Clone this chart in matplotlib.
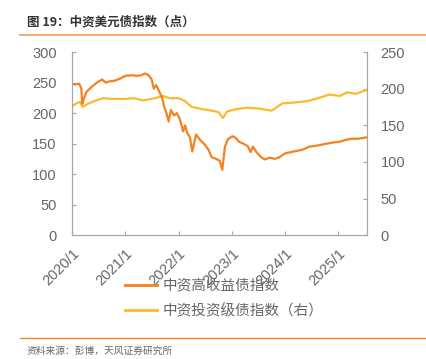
import matplotlib
matplotlib.use("Agg")
import matplotlib.pyplot as plt
import pandas as pd
from matplotlib.lines import Line2D

plt.rcParams['font.family'] = ['Noto Sans CJK SC', 'DejaVu Sans']

# 中资高收益债指数 (left axis)
hy_dates = ["2020-01-01", "2020-01-20", "2020-02-20", "2020-03-05", "2020-03-12", "2020-03-20",
            "2020-04-10", "2020-05-15", "2020-06-20", "2020-07-25", "2020-08-20", "2020-09-15",
            "2020-10-20", "2020-12-01", "2021-01-01", "2021-02-15", "2021-03-20", "2021-04-20",
            "2021-05-15", "2021-06-10", "2021-07-01", "2021-07-15", "2021-08-01", "2021-08-20",
            "2021-09-10", "2021-09-25", "2021-10-10", "2021-10-25", "2021-11-10", "2021-12-01",
            "2021-12-20", "2022-01-10", "2022-02-01", "2022-02-15", "2022-03-01", "2022-03-20",
            "2022-04-05", "2022-05-01", "2022-06-01", "2022-07-01", "2022-07-25", "2022-08-15",
            "2022-09-15", "2022-10-10", "2022-10-28", "2022-11-15", "2022-12-05", "2023-01-05",
            "2023-01-25", "2023-02-20", "2023-03-20", "2023-04-20", "2023-05-10", "2023-05-25",
            "2023-06-20", "2023-07-20", "2023-08-15", "2023-09-20", "2023-10-20", "2023-11-20",
            "2024-01-01", "2024-03-01", "2024-05-01", "2024-06-15", "2024-08-15", "2024-10-15",
            "2024-12-01", "2025-01-10", "2025-02-20", "2025-04-01", "2025-05-15", "2025-07-10"]
hy_vals = [248, 247, 248, 240, 215, 222, 235, 243, 250, 255, 250, 252,
           253, 257, 261, 262, 261, 262, 265, 262, 255, 240, 246, 236,
           225, 210, 200, 186, 205, 196, 200, 190, 170, 180, 168, 160,
           137, 165, 155, 148, 140, 128, 125, 122, 107, 145, 157, 162,
           160, 153, 150, 146, 136, 145, 136, 128, 124, 127, 125, 127,
           134, 137, 140, 145, 147, 150, 152, 153, 156, 158, 158, 160]

# 中资投资级债指数（右） (right axis)
ig_dates = ["2020-01-01", "2020-02-01", "2020-02-25", "2020-03-15", "2020-04-15", "2020-06-01",
            "2020-08-01", "2020-10-01", "2021-01-01", "2021-03-01", "2021-05-01", "2021-07-01",
            "2021-09-15", "2021-11-01", "2022-01-01", "2022-02-15", "2022-04-01", "2022-06-15",
            "2022-08-15", "2022-10-01", "2022-11-01", "2022-12-01", "2023-02-01", "2023-04-15",
            "2023-07-01", "2023-10-01", "2023-12-15", "2024-03-01", "2024-06-01", "2024-08-15",
            "2024-11-01", "2025-01-10", "2025-03-01", "2025-05-01", "2025-07-10"]
ig_vals = [176, 180, 182, 175, 179, 183, 187, 186, 186, 187, 184, 186,
           190, 187, 187, 183, 175, 172, 170, 168, 160, 169, 172, 174,
           173, 170, 180, 181, 183, 187, 192, 190, 195, 193, 198]

x_ticks = ["2020-01-01", "2021-01-01", "2022-01-01", "2023-01-01", "2024-01-01", "2025-01-01"]
x_labels = ["2020/1", "2021/1", "2022/1", "2023/1", "2024/1", "2025/1"]

hy_color = "#F4821E"
ig_color = "#FDB92C"
grey = "#666666"
spine = "#A6A6A6"

fig = plt.figure(figsize=(4.26, 3.59), dpi=100)
ax = fig.add_axes([0.169, 0.345, 0.692, 0.510])
ax2 = ax.twinx()

ax.plot(pd.to_datetime(hy_dates), hy_vals, color=hy_color, lw=1.6)
ax2.plot(pd.to_datetime(ig_dates), ig_vals, color=ig_color, lw=1.6)
ax.set_zorder(ax2.get_zorder() + 1)
ax.patch.set_visible(False)

ax.set_xlim(pd.Timestamp("2020-01-01"), pd.Timestamp("2025-07-15"))
ax.set_ylim(0, 300)
ax2.set_ylim(0, 250)
ax.set_yticks(range(0, 301, 50))
ax2.set_yticks(range(0, 251, 50))
ax.set_xticks(pd.to_datetime(x_ticks))
ax.set_xticklabels(x_labels, rotation=45, ha="right", rotation_mode="anchor")

for a in (ax, ax2):
    a.spines["top"].set_visible(False)
    for s in ("left", "right", "bottom"):
        a.spines[s].set_color(spine)
        a.spines[s].set_linewidth(0.8)
    a.tick_params(direction="in", colors=spine, labelcolor=grey, labelsize=10.5, length=3, width=0.8)
    for lab in a.get_xticklabels() + a.get_yticklabels():
        lab.set_family("Liberation Sans")
ax.tick_params(axis="y", pad=11)
ax2.tick_params(axis="y", pad=10)
ax.tick_params(axis="x", pad=8)

handles = [Line2D([], [], color=hy_color, lw=2),
           Line2D([], [], color=ig_color, lw=2)]
fig.legend(handles, ["中资高收益债指数", "中资投资级债指数（右）"], loc="upper left",
           bbox_to_anchor=(0.28, 0.24), frameon=False, fontsize=10.5, labelcolor=grey,
           handlelength=2.2, handletextpad=0.35, labelspacing=0.75, borderaxespad=0)

fig.text(0.063, 0.938, "图 19：中资美元债指数（点）", fontsize=9, fontweight="bold",
         color="#333333", va="center")
fig.add_artist(Line2D([0.047, 1.0], [0.902, 0.902], color="#F5A262", lw=1.3))
fig.add_artist(Line2D([0.047, 1.0], [0.058, 0.058], color="#F7841F", lw=1.0))
fig.text(0.063, 0.022, "资料来源：彭博，天风证券研究所", fontsize=7, color=grey, va="center")

fig.savefig("out.png", dpi=100)
